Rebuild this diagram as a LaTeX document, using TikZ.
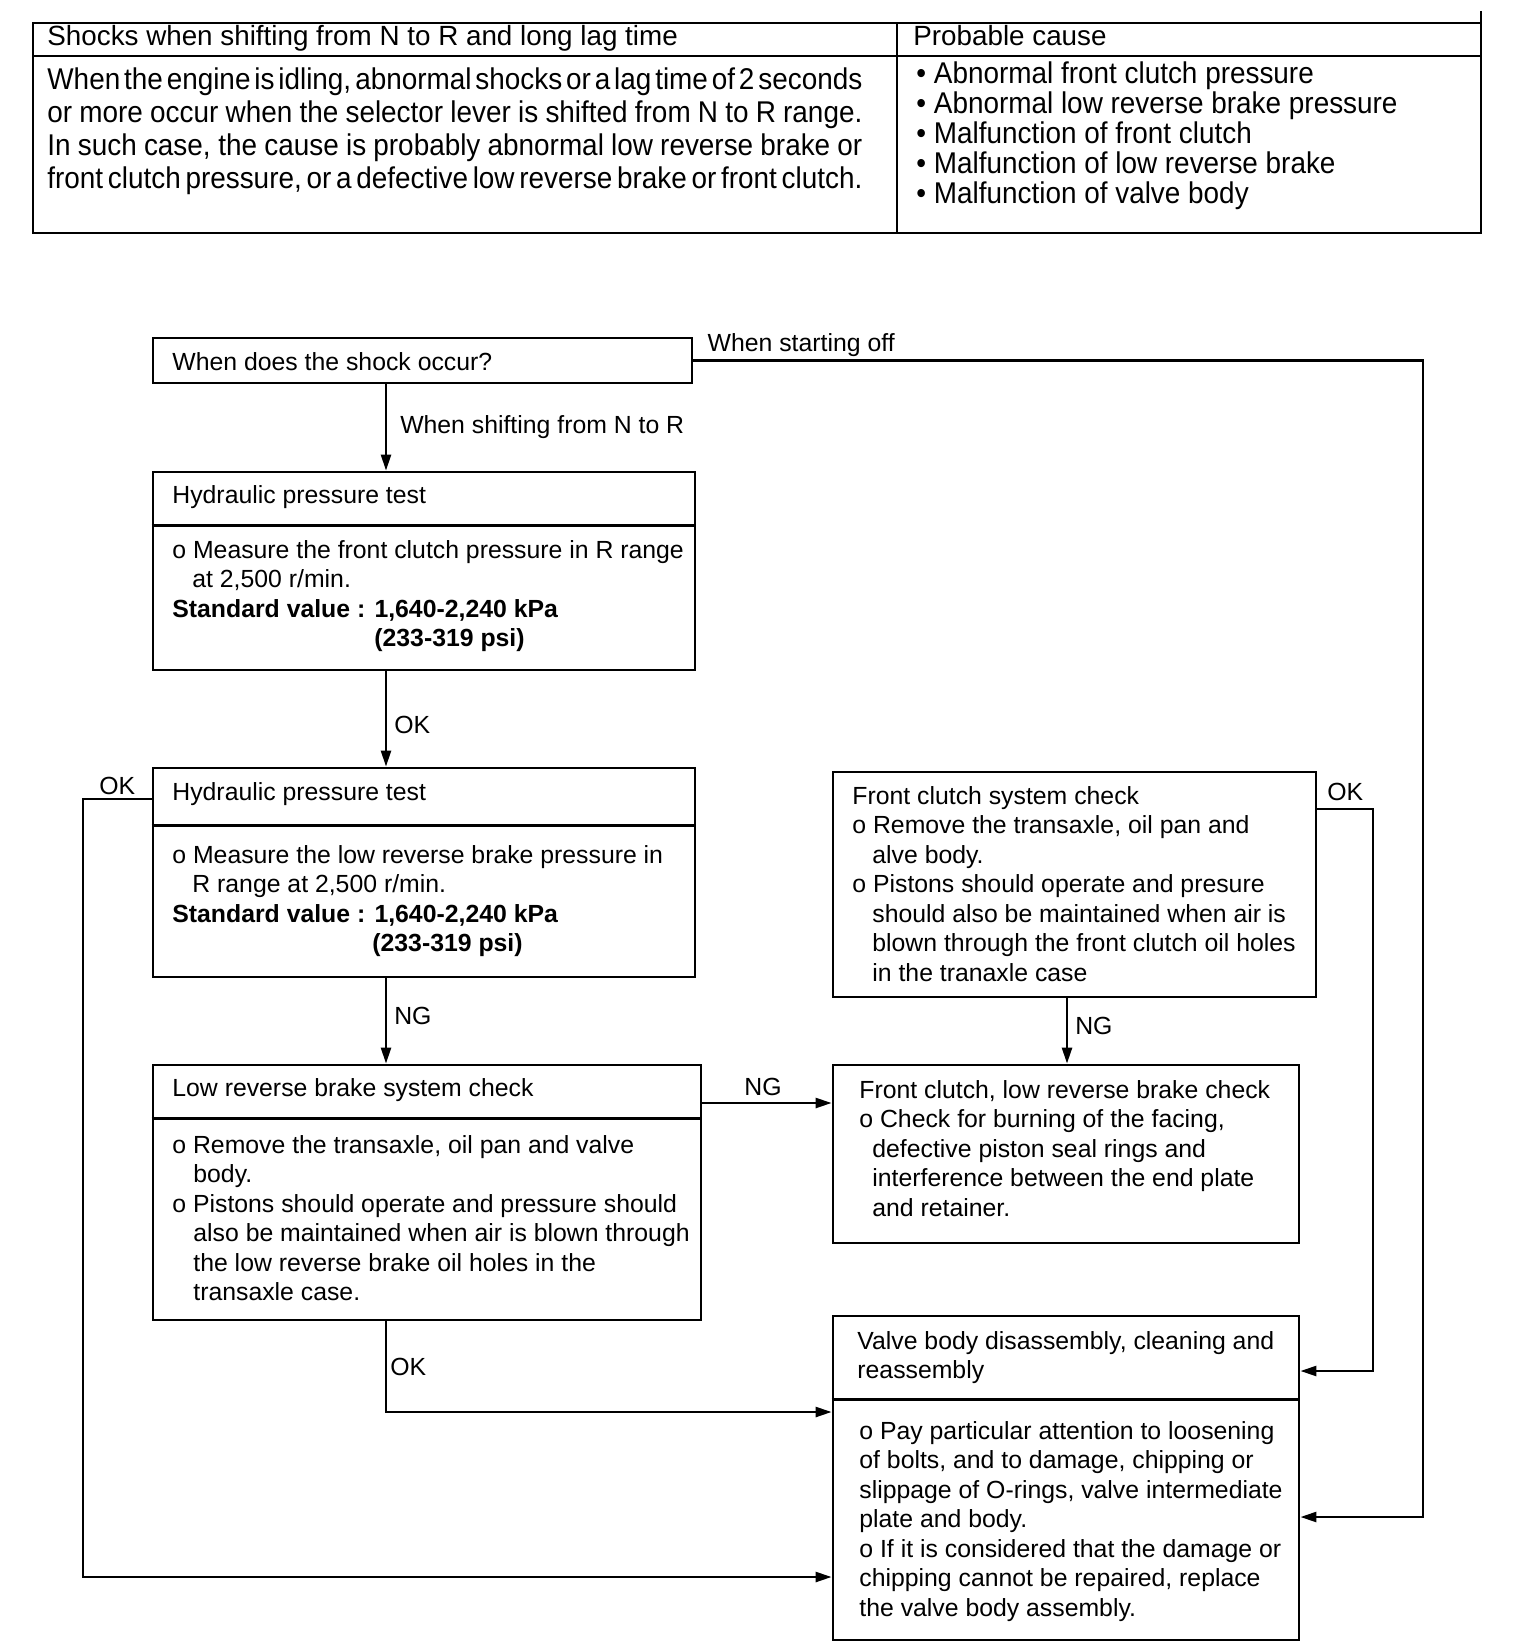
\documentclass[tikz,border=0pt]{standalone}
\usepackage{fontspec}
\setmainfont{Liberation Sans}
\newfontfamily\condfont[FakeStretch=0.93]{Liberation Sans}
\newfontfamily\causefam[FakeStretch=0.93]{Liberation Sans}
\usetikzlibrary{fit,positioning,arrows.meta,calc}

\newcommand{\flowfont}{\fontsize{12.4}{14.75}\selectfont}
\newcommand{\headfont}{\fontsize{13.9}{16}\selectfont}
\newcommand{\descfont}{\condfont\fontsize{15}{16.5}\selectfont\spaceskip=2.6pt plus 8pt minus 1pt\relax}
\newcommand{\causefont}{\causefam\fontsize{15}{15.1}\selectfont}
\newcommand{\fullline}[1]{\makebox[407.5pt][s]{#1}}
\newcommand{\indt}[1][10pt]{\hspace*{#1}}

\tikzset{
  box/.style     = {rectangle, draw, line width=1.4pt, inner sep=0pt},
  tbl/.style     = {line width=1.4pt},
  sepline/.style = {line width=1.4pt},
  txt/.style     = {anchor=north west, inner sep=0pt, align=left, font=\flowfont},
  lab/.style     = {font=\flowfont, inner sep=1.5pt},
  edge/.style    = {-{Triangle[length=8pt,width=5pt]}, line width=1.25pt},
}

\begin{document}
\begin{tikzpicture}[x=0.5pt, y=-0.5pt]
  \useasboundingbox (0,0) rectangle (1536,1652);

  % symptom table
  \draw[tbl] (33,23) rectangle (1481,233);
  \draw[tbl] (33,56) -- (1481,56);
  \draw[tbl] (897,23) -- (897,233);
  \draw[tbl] (1481,11) -- (1481,23);
  \node[txt, font=\headfont] (thead) at (47,25) {Shocks when shifting from N to R and long lag time};
  \node[txt, font=\headfont] (chead) at (913,25) {Probable cause};
  \node[txt, font=\descfont] (tdesc) at (47,67)
    {\fullline{When the engine is idling, abnormal shocks or a lag time of 2 seconds}\\
     \fullline{or more occur when the selector lever is shifted from N to R range.}\\
     \fullline{In such case, the cause is probably abnormal low reverse brake or}\\
     \fullline{front clutch pressure, or a defective low reverse brake or front clutch.}};
  \node[txt, font=\causefont] (cause) at (916,61)
    {\textbullet\ Abnormal front clutch pressure\\
     \textbullet\ Abnormal low reverse brake pressure\\
     \textbullet\ Malfunction of front clutch\\
     \textbullet\ Malfunction of low reverse brake\\
     \textbullet\ Malfunction of valve body};

  % boxes
  \node[box, fit={(153,338) (692,383)}]   (shock) {};
  \node[box, fit={(153,472) (695,670)}]   (hp1)   {};
  \node[box, fit={(153,768) (695,977)}]   (hp2)   {};
  \node[box, fit={(153,1065) (701,1320)}] (lrb)   {};
  \node[box, fit={(833,772) (1316,997)}]  (fcs)   {};
  \node[box, fit={(833,1065) (1299,1243)}] (fcl)  {};
  \node[box, fit={(833,1316) (1299,1640)}] (valve) {};

  \draw[sepline] ($(hp1.north west)+(0,55)$) -- ($(hp1.north east)+(0,55)$);
  \draw[sepline] ($(hp2.north west)+(0,59)$) -- ($(hp2.north east)+(0,59)$);
  \draw[sepline] ($(lrb.north west)+(0,55)$) -- ($(lrb.north east)+(0,55)$);
  \draw[sepline] ($(valve.north west)+(0,85)$) -- ($(valve.north east)+(0,85)$);

  % box texts
  \node[txt] (shockt) at (172,352) {When does the shock occur?};
  \node[txt] (hp1t) at (172,485) {Hydraulic pressure test};
  \node[txt] (hp1b) at (172,540)
    {o Measure the front clutch pressure in R range\\
     \indt at 2,500 r/min.\\
     \textbf{Standard value : 1,640-2,240 kPa}\\
     \indt[101pt]\textbf{(233-319 psi)}};
  \node[txt] (hp2t) at (172,782) {Hydraulic pressure test};
  \node[txt] (hp2b) at (172,845)
    {o Measure the low reverse brake pressure in\\
     \indt R range at 2,500 r/min.\\
     \textbf{Standard value : 1,640-2,240 kPa}\\
     \indt[100pt]\textbf{(233-319 psi)}};
  \node[txt] (lrbt) at (172,1078) {Low reverse brake system check};
  \node[txt] (lrbb) at (172,1135)
    {o Remove the transaxle, oil pan and valve\\
     \indt[10.5pt]body.\\
     o Pistons should operate and pressure should\\
     \indt[10.5pt]also be maintained when air is blown through\\
     \indt[10.5pt]the low reverse brake oil holes in the\\
     \indt[10.5pt]transaxle case.};
  \node[txt] (fcst) at (852,786)
    {Front clutch system check\\
     o Remove the transaxle, oil pan and\\
     \indt alve body.\\
     o Pistons should operate and presure\\
     \indt should also be maintained when air is\\
     \indt blown through the front clutch oil holes\\
     \indt in the tranaxle case};
  \node[txt] (fclt) at (859,1080)
    {Front clutch, low reverse brake check\\
     o Check for burning of the facing,\\
     \indt[6.5pt]defective piston seal rings and\\
     \indt[6.5pt]interference between the end plate\\
     \indt[6.5pt]and retainer.};
  \node[txt] (valvet) at (857,1331)
    {Valve body disassembly, cleaning and\\
     reassembly};
  \node[txt] (valveb) at (859,1421)
    {o Pay particular attention to loosening\\
     of bolts, and to damage, chipping or\\
     slippage of O-rings, valve intermediate\\
     plate and body.\\
     o If it is considered that the damage or\\
     chipping cannot be repaired, replace\\
     the valve body assembly.};

  % routing points
  \coordinate (spine) at (386,0);
  \coordinate (fcx)   at (1067,0);
  \coordinate (ngrow) at (0,1103);
  \coordinate (okrow) at (0,1412);
  \coordinate (lrail) at (83,799);
  \coordinate (lbot)  at (0,1577);
  \coordinate (rrail) at (1373,809);
  \coordinate (rbot)  at (0,1371);
  \coordinate (orail) at (1423,1517);

  % connectors
  \draw[edge] (shock.south -| spine) -- node[lab, right, xshift=5pt] {When shifting from N to R} (hp1.north -| spine);
  \draw[edge] (shock.east) -| node[lab, pos=0, anchor=south west, xshift=5pt] {When starting off} (orail) -- (valve.east |- orail);
  \draw[edge] (hp1.south -| spine) -- node[lab, right, xshift=2pt, yshift=-3pt] {OK} (hp2.north -| spine);
  \draw[edge] (hp2.south -| spine) -- node[lab, right, xshift=2pt, yshift=2.5pt] {NG} (lrb.north -| spine);
  \draw[edge] (lrb.east |- ngrow) -- node[lab, above, xshift=-2pt, yshift=1.5pt] {NG} (fcl.west |- ngrow);
  \draw[edge] (fcs.south -| fcx) -- node[lab, right, xshift=2pt, yshift=2.5pt] {NG} (fcl.north -| fcx);
  \draw[edge] (lrb.south -| spine) |- node[lab, right, pos=0.25] {OK} (valve.west |- okrow);
  \draw[edge] (hp2.west |- lrail) -- node[lab, above] {OK} (lrail) |- (valve.west |- lbot);
  \draw[edge] (fcs.east |- rrail) -- node[lab, above, yshift=2pt] {OK} (rrail) |- (valve.east |- rbot);

\end{tikzpicture}
\end{document}
